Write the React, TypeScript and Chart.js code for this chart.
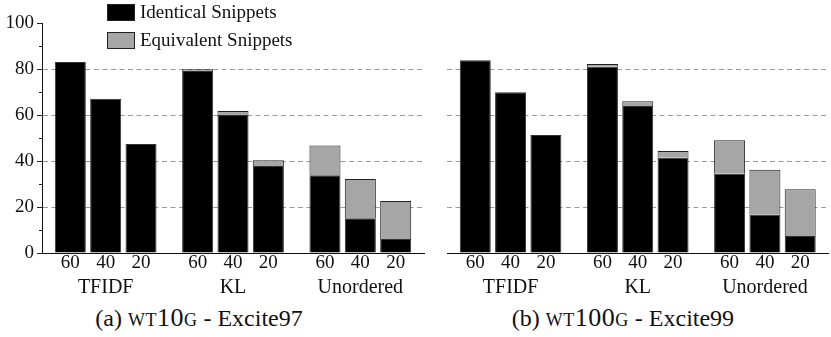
import React, { useEffect, useRef } from "react";
import { Chart, registerables } from "chart.js";

Chart.register(...registerables);

// ---- data ----
const groups = ["TFIDF", "KL", "Unordered"];
const cutoffs = ["60", "40", "20"];
const seriesNames = ["Identical Snippets", "Equivalent Snippets"];
const yTicks = [0, 20, 40, 60, 80, 100];
const yMinorTicks = [10, 30, 50, 70, 90];
// values indexed [group][cutoff]
const wt10gIdentical = [
  [83.0, 67.1, 47.4],
  [79.1, 60.0, 37.8],
  [33.8, 15.1, 6.1],
];
const wt10gEquivalent = [
  [0, 0, 0],
  [0.8, 1.7, 2.5],
  [12.9, 17.1, 16.5],
];
const wt100gIdentical = [
  [83.8, 69.9, 51.3],
  [81.0, 63.9, 41.4],
  [34.5, 16.7, 7.4],
];
const wt100gEquivalent = [
  [0, 0, 0],
  [1.2, 2.1, 2.9],
  [14.5, 19.5, 20.3],
];

const FONT = '"Liberation Serif", serif';
const BLACK = "#000000";
const GRAY = "#a6a6a6";
const TEXT = "#111111";

function buildDatasets(identical: number[][], equivalent: number[][]) {
  const ds: any[] = [];
  cutoffs.forEach((c, ci) => {
    ds.push({
      label: seriesNames[0] + " " + c,
      data: groups.map((_, g) => identical[g][ci]),
      backgroundColor: BLACK,
      borderColor: "#333333",
      borderWidth: 1,
      stack: "s" + c,
    });
    ds.push({
      label: seriesNames[1] + " " + c,
      data: groups.map((_, g) => (equivalent[g][ci] > 0 ? equivalent[g][ci] : null)),
      backgroundColor: GRAY,
      borderColor: "#222222",
      borderWidth: 1,
      stack: "s" + c,
    });
  });
  return ds;
}

function makeDecor(showLegend: boolean, showYAxis: boolean) {
  return {
    id: "decor",
    afterDraw(chart: any) {
      const { ctx, chartArea } = chart;
      ctx.save();
      ctx.fillStyle = TEXT;
      ctx.font = "19px " + FONT;
      ctx.textAlign = "center";
      ctx.textBaseline = "middle";
      cutoffs.forEach((lab, ci) => {
        const meta = chart.getDatasetMeta(ci * 2);
        meta.data.forEach((el: any) => {
          ctx.fillText(lab, el.x, chartArea.bottom + 10);
        });
      });
      if (showYAxis) {
        const ys = chart.scales.y;
        ctx.strokeStyle = "#222";
        ctx.lineWidth = 1;
        yMinorTicks.forEach((v) => {
          const py = Math.round(ys.getPixelForValue(v)) + 0.5;
          ctx.beginPath();
          ctx.moveTo(chartArea.left - 3, py);
          ctx.lineTo(chartArea.left, py);
          ctx.stroke();
        });
      }
      if (showLegend) {
        const bx = chartArea.left + 65;
        const rows = [
          { y: 4, color: BLACK, name: seriesNames[0] },
          { y: 32, color: GRAY, name: seriesNames[1] },
        ];
        ctx.font = "19px " + FONT;
        ctx.textAlign = "left";
        ctx.textBaseline = "middle";
        rows.forEach((r) => {
          ctx.fillStyle = r.color;
          ctx.fillRect(bx, r.y, 28, 17);
          ctx.strokeStyle = "#222";
          ctx.lineWidth = 1;
          ctx.strokeRect(bx + 0.5, r.y + 0.5, 27, 16);
          ctx.fillStyle = TEXT;
          ctx.fillText(r.name, bx + 33, r.y + 9);
        });
      }
      ctx.restore();
    },
  };
}

function Panel(props: {
  identical: number[][];
  equivalent: number[][];
  showYAxis: boolean;
  showLegend: boolean;
  width: number;
  yWidth: number;
  padRight: number;
}) {
  const ref = useRef<HTMLCanvasElement>(null);
  useEffect(() => {
    let chart: any = null;
    let cancelled = false;
    const make = () => {
      if (cancelled || !ref.current) return;
      chart = new Chart(ref.current, {
        type: "bar",
        data: {
          labels: groups,
          datasets: buildDatasets(props.identical, props.equivalent),
        },
        options: {
          responsive: false,
          animation: false,
          layout: { padding: { top: 23, right: props.padRight, left: 0, bottom: 0 } },
          plugins: { legend: { display: false }, tooltip: { enabled: false } },
          datasets: {
            bar: { categoryPercentage: 0.833, barPercentage: 0.878 },
          },
          scales: {
            x: {
              stacked: true,
              offset: true,
              grid: { display: false, drawTicks: false },
              border: { display: true, color: "#111", width: 1 },
              ticks: {
                color: TEXT,
                font: { family: FONT, size: 20 },
                padding: 23,
                maxRotation: 0,
                autoSkip: false,
              },
              afterFit: (s: any) => {
                s.height = 47;
              },
            },
            y: {
              stacked: true,
              min: 0,
              max: 100,
              afterBuildTicks: (s: any) => {
                s.ticks = yTicks.map((v) => ({ value: v }));
              },
              afterFit: (s: any) => {
                s.width = props.yWidth;
              },
              grid: {
                color: (c: any) =>
                  c.tick && (c.tick.value === 0 || c.tick.value === 100)
                    ? "rgba(0,0,0,0)"
                    : "#9a9a9a",
                lineWidth: 1,
                drawTicks: props.showYAxis,
                tickLength: 5,
                tickColor: "#222",
              },
              border: { display: props.showYAxis, color: "#111", width: 1, dash: [5, 3.5] },
              ticks: {
                display: props.showYAxis,
                color: TEXT,
                font: { family: FONT, size: 19 },
                padding: 3,
              },
            },
          },
        },
        plugins: [makeDecor(props.showLegend, props.showYAxis)],
      });
    };
    const fonts: any = (document as any).fonts;
    if (fonts && fonts.load) {
      Promise.all([
        fonts.load('19px "Liberation Serif"'),
        fonts.load('20px "Liberation Serif"'),
      ])
        .catch(() => null)
        .then(make);
    } else {
      make();
    }
    return () => {
      cancelled = true;
      if (chart) chart.destroy();
    };
  }, []);
  return <canvas ref={ref} width={props.width} height={300} />;
}

const captionStyle: React.CSSProperties = {
  position: "absolute",
  top: 305,
  width: 340,
  textAlign: "center",
  fontFamily: FONT,
  fontSize: 24,
  lineHeight: "26px",
  color: TEXT,
  whiteSpace: "nowrap",
};

const scStyle: React.CSSProperties = { fontVariant: "small-caps", fontSize: 26, letterSpacing: 0.5 };

export default function App() {
  return (
    <div style={{ position: "absolute", left: 0, top: 0, width: 831, height: 337, background: "#fff", overflow: "hidden" }}>
      <div style={{ position: "absolute", left: 0, top: 0 }}>
        <Panel
          identical={wt10gIdentical}
          equivalent={wt10gEquivalent}
          showYAxis={true}
          showLegend={true}
          width={431}
          yWidth={42}
          padRight={7}
        />
      </div>
      <div style={{ position: "absolute", left: 431, top: 0 }}>
        <Panel
          identical={wt100gIdentical}
          equivalent={wt100gEquivalent}
          showYAxis={false}
          showLegend={false}
          width={400}
          yWidth={16}
          padRight={2}
        />
      </div>
      <div style={{ ...captionStyle, left: 199 - 170 }}>
        (a) <span style={scStyle}>wt10g</span> - Excite97
      </div>
      <div style={{ ...captionStyle, left: 623 - 170 }}>
        (b) <span style={scStyle}>wt100g</span> - Excite99
      </div>
    </div>
  );
}
